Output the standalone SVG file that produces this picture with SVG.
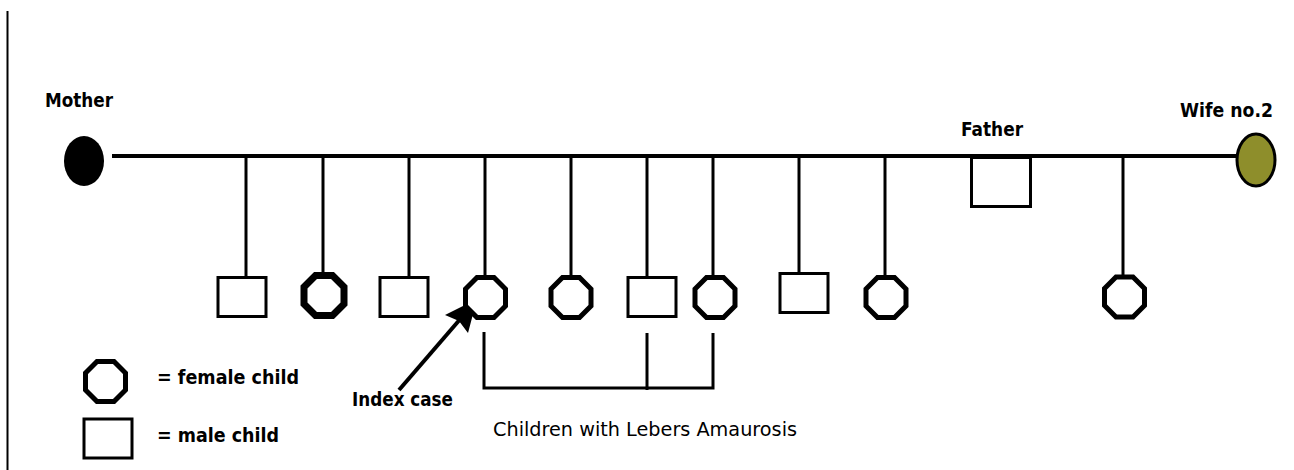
<svg xmlns="http://www.w3.org/2000/svg" width="1294" height="470" viewBox="0 0 1294 470">
  <style>
    .lbl { font-family: "DejaVu Sans", "Liberation Sans", sans-serif; font-size: 19px; font-weight: bold; fill: #000; }
    .reg { font-family: "DejaVu Sans", "Liberation Sans", sans-serif; font-size: 19px; fill: #000; }
    .line { stroke: #000; fill: none; }
    .male { fill: #fff; stroke: #000; stroke-width: 3; }
    .female { fill: #fff; stroke: #000; stroke-width: 5; }
  </style>
  <defs>
    <!-- octagon centred on 0,0, outer extent about 44px -->
    <polygon id="oct" points="-8.5,-20 8.5,-20 20,-8.5 20,8.5 8.5,20 -8.5,20 -20,8.5 -20,-8.5"/>
  </defs>
  <rect width="1294" height="470" fill="#fff"/>

  <!-- page margin rule -->
  <line class="line" x1="7.5" y1="11" x2="7.5" y2="470" stroke-width="2"/>

  <!-- connectors -->
  <g id="connectors">
    <line class="line" x1="112" y1="156" x2="1237" y2="156" stroke-width="4"/>
    <g stroke-width="3" class="line">
      <line x1="246" y1="156" x2="246" y2="277"/>
      <line x1="323" y1="156" x2="323" y2="274"/>
      <line x1="409" y1="156" x2="409" y2="277"/>
      <line x1="485" y1="156" x2="485" y2="276"/>
      <line x1="571" y1="156" x2="571" y2="276"/>
      <line x1="647" y1="156" x2="647" y2="276"/>
      <line x1="713" y1="156" x2="713" y2="276"/>
      <line x1="799" y1="156" x2="799" y2="273"/>
      <line x1="885" y1="156" x2="885" y2="276"/>
      <line x1="1123" y1="156" x2="1123" y2="276"/>
    </g>
    <!-- bracket grouping affected children -->
    <g class="line" stroke-width="3">
      <path d="M484,332 V388 H713 V333"/>
      <line x1="647" y1="333" x2="647" y2="390"/>
    </g>
    <!-- index case pointer -->
    <line class="line" x1="399" y1="390" x2="462" y2="317" stroke-width="4"/>
    <polygon points="477,299 468,333 459,321 445,315" fill="#000"/>
  </g>

  <!-- parents -->
  <g id="mother">
    <ellipse cx="84" cy="161" rx="20" ry="25" fill="#000"/>
    <text class="lbl" x="45" y="107" textLength="68" lengthAdjust="spacingAndGlyphs">Mother</text>
  </g>
  <g id="father">
    <rect class="male" x="971.5" y="157.5" width="59" height="49"/>
    <text class="lbl" x="961" y="136" textLength="62" lengthAdjust="spacingAndGlyphs">Father</text>
  </g>
  <g id="wife2">
    <ellipse cx="1256" cy="160" rx="19" ry="26" fill="#8e8e2b" stroke="#000" stroke-width="3"/>
    <text class="lbl" x="1180" y="117" textLength="93" lengthAdjust="spacingAndGlyphs">Wife no.2</text>
  </g>

  <!-- children, left to right -->
  <g id="child1"><rect class="male" x="218" y="277.5" width="48" height="39"/></g>
  <g id="child2"><use href="#oct" class="female" transform="translate(324,295.5)" style="stroke-width:7"/></g>
  <g id="child3"><rect class="male" x="380" y="277.5" width="48" height="39"/></g>
  <g id="child4"><use href="#oct" class="female" transform="translate(485.5,297.5)"/></g>
  <g id="child5"><use href="#oct" class="female" transform="translate(571,297.5)"/></g>
  <g id="child6"><rect class="male" x="628" y="277.5" width="48" height="39"/></g>
  <g id="child7"><use href="#oct" class="female" transform="translate(715,297.5)"/></g>
  <g id="child8"><rect class="male" x="780" y="273.5" width="48" height="39"/></g>
  <g id="child9"><use href="#oct" class="female" transform="translate(886,297.5)"/></g>
  <g id="child10"><use href="#oct" class="female" transform="translate(1124.5,297)"/></g>

  <!-- annotations -->
  <g id="index-label">
    <text class="lbl" x="352" y="406" textLength="101" lengthAdjust="spacingAndGlyphs">Index case</text>
  </g>
  <g id="affected-label">
    <text class="reg" x="493" y="436" textLength="304" lengthAdjust="spacingAndGlyphs">Children with Lebers Amaurosis</text>
  </g>

  <!-- key -->
  <g id="legend-female">
    <use href="#oct" class="female" transform="translate(105.5,381.5)"/>
    <text class="lbl" x="157" y="384" textLength="142" lengthAdjust="spacingAndGlyphs">= female child</text>
  </g>
  <g id="legend-male">
    <rect class="male" x="84" y="419" width="48" height="39"/>
    <text class="lbl" x="157" y="442" textLength="122" lengthAdjust="spacingAndGlyphs">= male child</text>
  </g>
</svg>
